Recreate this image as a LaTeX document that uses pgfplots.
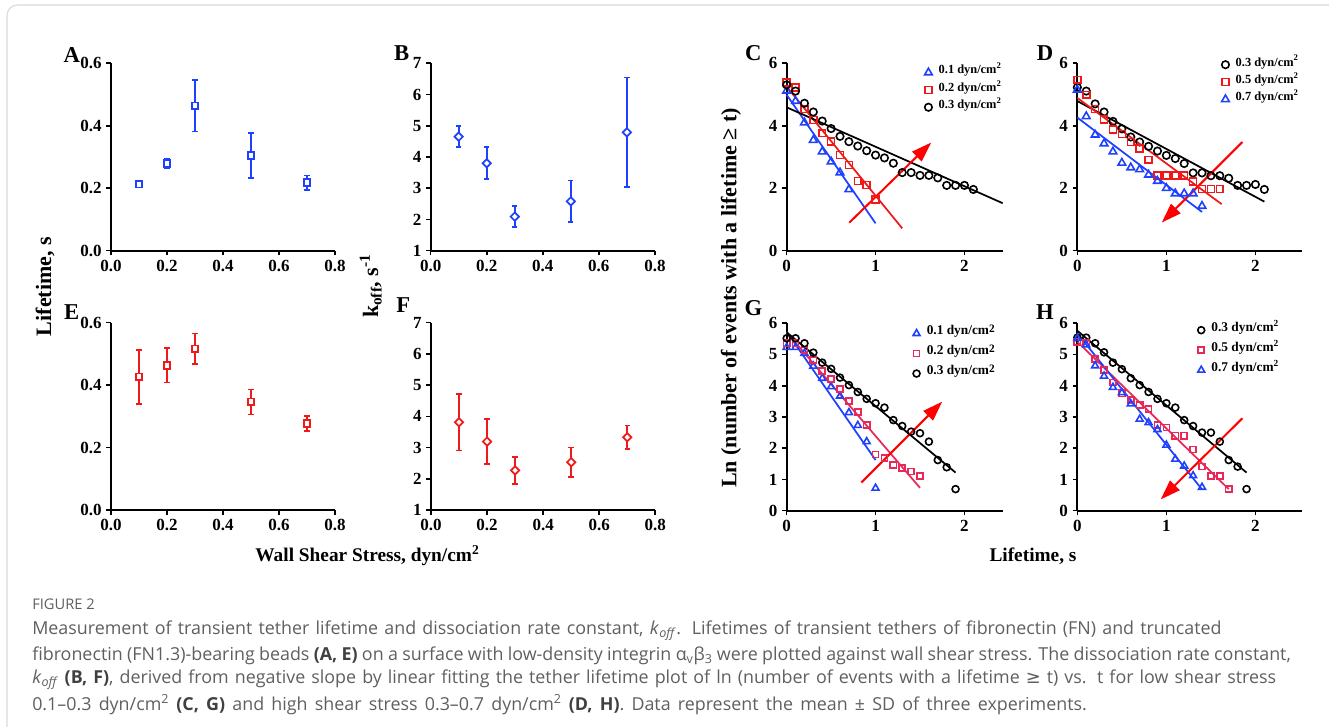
\documentclass[border=0pt]{standalone}
\usepackage{fontspec}
\setmainfont{Liberation Serif}
\newfontfamily\capfont{Open Sans}
\newfontfamily\symfont{DejaVu Sans}
\usepackage{pgfplots}
\pgfplotsset{compat=1.18}
\usepackage{pgfplotstable}
\usetikzlibrary{arrows.meta}

\definecolor{blueM}{RGB}{30,64,255}
\definecolor{redM}{RGB}{240,25,25}
\definecolor{pinkM}{RGB}{232,40,88}
\definecolor{capgray}{RGB}{95,95,95}

\newcommand\tickfont{\bfseries\fontsize{12.75}{13}\selectfont}
\newcommand\legfont{\bfseries\fontsize{9.3}{10}\selectfont}
\newcommand\legfontb{\bfseries\fontsize{10}{11}\selectfont}
\newcommand\sq{\textsuperscript{2}}
\newcommand\sqb{\raisebox{0.45ex}{\fontsize{8.5}{9}\selectfont 2}}
\newcommand\capline[2]{\makebox[#1][s]{#2}}

\tikzset{arr/.style={red, line width=1.5pt, -{Triangle[length=15pt,width=10pt]}}}

\pgfplotsset{
  panel/.style={
    scale only axis, anchor=south west,
    axis x line*=bottom, axis y line*=left,
    axis line style={-, line width=1.5pt},
    tick align=outside, major tick length=3.5pt,
    major tick style={line width=1.2pt, black},
    ticklabel style={font=\tickfont},
    /pgf/number format/assume math mode=true,
    clip=false,
  },
  errpanel/.style={panel, width=168pt, height=140.55pt, xmin=0, xmax=0.8,
    xtick={0,0.2,0.4,0.6,0.8}, xticklabels={0.0,0.2,0.4,0.6,0.8}},
  lifeaxis/.style={ymin=0, ymax=0.6, ytick={0,0.2,0.4,0.6}, yticklabels={0.0,0.2,0.4,0.6}},
  koffaxis/.style={ymin=1, ymax=7, ytick={1,2,...,7}, yticklabels={1,2,3,4,5,6,7}},
  decay/.style={panel, height=140.55pt, ymin=0, ymax=6, xmin=0,
    xtick={0,1,2}, xticklabels={0,1,2}},
  ebar/.style={only marks,
    error bars/y dir=both, error bars/y explicit,
    error bars/error bar style={line width=1.2pt, #1},
    error bars/error mark options={rotate=90, mark size=2pt, line width=1.2pt, #1}},
  fit/.style={#1, line width=1.3pt, forget plot},
  pts/.style={#1, only marks, mark options={line width=1.2pt}},
  leg/.style={legend style={draw=none, fill=none, font=\legfont, anchor=north west,
      at={#1}, row sep=0pt, inner sep=0pt,
      nodes={inner xsep=1.5pt, inner ysep=0pt, text height=7.5pt, text depth=5.5pt}},
    legend cell align=left,
    legend image code/.code={\path (0pt,0pt) (11pt,0pt);
      \draw[mark repeat=2,mark phase=2,##1]
      plot coordinates {(0pt,0pt)(5pt,0pt)(10pt,0pt)};}},
  legb/.style={leg={#1}, legend style={font=\legfontb,
      nodes={inner xsep=1.5pt, inner ysep=0pt, text height=8.5pt, text depth=6.5pt}}},
}

\pgfplotstableread{
x y e
0.1 0.213 0.010
0.2 0.279 0.014
0.3 0.464 0.082
0.5 0.305 0.072
0.7 0.218 0.023
}\dataA
\pgfplotstableread{
x y e
0.1 4.65 0.34
0.2 3.80 0.51
0.3 2.09 0.34
0.5 2.58 0.67
0.7 4.79 1.76
}\dataB
\pgfplotstableread{
x y e
0.1 0.426 0.087
0.2 0.463 0.055
0.3 0.516 0.049
0.5 0.346 0.040
0.7 0.277 0.024
}\dataE
\pgfplotstableread{
x y e
0.1 3.81 0.91
0.2 3.19 0.72
0.3 2.27 0.43
0.5 2.53 0.47
0.7 3.33 0.37
}\dataF

\begin{document}
\begin{tikzpicture}
\useasboundingbox (0pt,0pt) rectangle (996.75pt,-545.25pt);
\draw[black!15, line width=0.8pt, rounded corners=8pt] (5.25pt,-3.75pt) rectangle (1010pt,-560pt);

% A
\begin{axis}[errpanel, lifeaxis, at={(83.25pt,-188pt)}]
\addplot[blueM, mark=square*, mark size=2.5pt, ebar=blueM, mark options={fill=white, line width=1.3pt}] table[x=x,y=y,y error=e]{\dataA};
\end{axis}
% B
\begin{axis}[errpanel, koffaxis, at={(323pt,-188pt)}, width=168.2pt]
\addplot[blueM, mark=square*, mark size=2.2pt, ebar=blueM, mark options={rotate=45, fill=white, line width=1.3pt}] table[x=x,y=y,y error=e]{\dataB};
\end{axis}
% E
\begin{axis}[errpanel, lifeaxis, at={(83.25pt,-382.5pt)}]
\addplot[redM, mark=square*, mark size=2.5pt, ebar=redM, mark options={fill=white, line width=1.3pt}] table[x=x,y=y,y error=e]{\dataE};
\end{axis}
% F
\begin{axis}[errpanel, koffaxis, at={(323.25pt,-382.5pt)}, width=168.2pt]
\addplot[redM, mark=square*, mark size=2.2pt, ebar=redM, mark options={rotate=45, fill=white, line width=1.3pt}] table[x=x,y=y,y error=e]{\dataF};
\end{axis}

% C
\begin{axis}[decay, at={(590pt,-188pt)}, width=162pt, xmax=2.43,
  ytick={0,2,4,6}, yticklabels={0,2,4,6}, leg={(0.623,0.998)}]
\addplot[pts=blueM, mark=triangle, mark size=3.3pt] coordinates {
(0,5.12)(0.1,4.79)(0.2,4.10)(0.3,3.54)(0.4,3.17)(0.5,2.85)(0.6,2.50)(0.7,1.96)};
\addlegendentry{0.1 dyn/cm\sq}
\addplot[pts=redM, mark=square, mark size=2.6pt] coordinates {
(0,5.39)(0.1,5.22)(0.2,4.54)(0.3,4.18)(0.4,3.76)(0.5,3.49)(0.6,3.06)(0.7,2.74)(0.8,2.23)(0.9,2.10)(1.0,1.64)};
\addlegendentry{0.2 dyn/cm\sq}
\addplot[pts=black, mark=o, mark size=2.8pt] coordinates {
(0,5.31)(0.1,5.11)(0.2,4.72)(0.3,4.44)(0.4,4.15)(0.5,3.91)(0.6,3.66)(0.7,3.49)(0.8,3.35)(0.9,3.20)(1.0,3.06)
(1.1,2.97)(1.2,2.80)(1.3,2.50)(1.4,2.50)(1.5,2.41)(1.6,2.41)(1.7,2.33)(1.8,2.09)(1.9,2.09)(2.0,2.09)(2.1,1.96)};
\addlegendentry{0.3 dyn/cm\sq}
\addplot[fit=blueM] coordinates {(0,4.99)(1,0.875)};
\addplot[fit=redM] coordinates {(0,5.25)(1.3,0.715)};
\addplot[fit=black] coordinates {(0,4.59)(2.43,1.52)};
\draw[arr] (axis cs:0.705,0.897) -- (axis cs:1.625,3.46);
\end{axis}

% D
\begin{axis}[decay, at={(808pt,-188pt)}, width=168.3pt, xmax=2.52,
  ytick={0,2,4,6}, yticklabels={0,2,4,6}, leg={(0.628,1.04)}]
\addplot[pts=black, mark=o, mark size=2.8pt] coordinates {
(0,5.23)(0.1,5.11)(0.2,4.70)(0.3,4.44)(0.4,4.14)(0.5,3.90)(0.6,3.64)(0.7,3.48)(0.8,3.34)(0.9,3.19)(1.0,3.05)
(1.1,2.95)(1.2,2.79)(1.3,2.49)(1.4,2.49)(1.5,2.40)(1.6,2.40)(1.7,2.32)(1.8,2.09)(1.9,2.09)(2.0,2.12)(2.1,1.96)};
\addlegendentry{0.3 dyn/cm\sq}
\addplot[pts=redM, mark=square, mark size=2.6pt] coordinates {
(0,5.47)(0.1,4.99)(0.2,4.54)(0.3,4.20)(0.4,3.88)(0.5,3.74)(0.6,3.48)(0.7,3.27)(0.8,2.91)(0.9,2.40)(1.0,2.40)
(1.1,2.40)(1.2,2.40)(1.3,2.21)(1.4,1.97)(1.5,1.97)(1.6,1.97)};
\addlegendentry{0.5 dyn/cm\sq}
\addplot[pts=blueM, mark=triangle, mark size=3.3pt] coordinates {
(0,5.15)(0.1,4.30)(0.2,3.71)(0.3,3.43)(0.4,3.17)(0.5,2.81)(0.6,2.66)(0.7,2.60)(0.8,2.43)(0.9,2.23)(1.0,2.00)
(1.1,1.83)(1.2,1.83)(1.3,1.83)(1.4,1.43)};
\addlegendentry{0.7 dyn/cm\sq}
\addplot[fit=black] coordinates {(0,4.79)(2.1,1.57)};
\addplot[fit=redM] coordinates {(0,4.89)(1.62,1.49)};
\addplot[fit=blueM] coordinates {(0,4.26)(1.4,1.24)};
\draw[arr] (axis cs:1.854,3.48) -- (axis cs:0.948,0.90);
\end{axis}

% G
\begin{axis}[decay, at={(590pt,-383pt)}, width=162pt, xmax=2.43,
  ytick={0,1,...,6}, yticklabels={0,1,2,3,4,5,6}, legb={(0.568,1.0)}]
\addplot[pts=blueM, mark=triangle, mark size=3pt] coordinates {
(0,5.23)(0.1,5.23)(0.2,5.04)(0.3,4.63)(0.4,4.24)(0.5,3.97)(0.6,3.67)(0.7,3.14)(0.8,2.73)(0.9,2.21)(1.0,0.72)};
\addlegendentry{0.1 dyn/cm\sqb}
\addplot[pts=pinkM, mark=square, mark size=2.3pt] coordinates {
(0,5.36)(0.1,5.36)(0.2,5.15)(0.3,4.83)(0.4,4.47)(0.5,4.21)(0.6,3.90)(0.7,3.51)(0.8,3.16)(0.9,2.75)(1.0,1.80)
(1.1,1.68)(1.2,1.46)(1.3,1.36)(1.4,1.25)(1.5,1.11)};
\addlegendentry{0.2 dyn/cm\sqb}
\addplot[pts=black, mark=o, mark size=2.6pt] coordinates {
(0,5.52)(0.1,5.52)(0.2,5.36)(0.3,5.06)(0.4,4.74)(0.5,4.54)(0.6,4.26)(0.7,4.02)(0.8,3.80)(0.9,3.58)(1.0,3.44)
(1.1,3.30)(1.2,2.90)(1.3,2.71)(1.4,2.53)(1.5,2.48)(1.6,2.21)(1.7,1.62)(1.8,1.39)(1.9,0.69)};
\addlegendentry{0.3 dyn/cm\sqb}
\addplot[fit=blueM] coordinates {(0,5.73)(1.0,1.62)};
\addplot[fit=pinkM] coordinates {(0,5.71)(1.5,0.73)};
\addplot[fit=black] coordinates {(0,5.71)(1.9,1.22)};
\draw[arr] (axis cs:0.84,0.90) -- (axis cs:1.75,3.49);
\end{axis}

% H
\begin{axis}[decay, at={(808pt,-383pt)}, width=168.3pt, xmax=2.52,
  ytick={0,1,...,6}, yticklabels={0,1,2,3,4,5,6}, legb={(0.52,1.018)}]
\addplot[pts=black, mark=o, mark size=2.6pt] coordinates {
(0,5.54)(0.1,5.54)(0.2,5.36)(0.3,5.07)(0.4,4.74)(0.5,4.53)(0.6,4.24)(0.7,4.02)(0.8,3.80)(0.9,3.58)(1.0,3.44)
(1.1,3.30)(1.2,2.90)(1.3,2.71)(1.4,2.50)(1.5,2.50)(1.6,2.21)(1.7,1.62)(1.8,1.41)(1.9,0.69)};
\addlegendentry{0.3 dyn/cm\sq}
\addplot[pts=pinkM, mark=square, mark size=2.3pt] coordinates {
(0,5.41)(0.1,5.36)(0.2,4.86)(0.3,4.51)(0.4,4.10)(0.5,3.76)(0.6,3.54)(0.7,3.38)(0.8,3.25)(0.9,2.74)(1.0,2.66)
(1.1,2.40)(1.2,2.40)(1.3,1.96)(1.4,1.41)(1.5,1.11)(1.6,1.11)(1.7,0.69)};
\addlegendentry{0.5 dyn/cm\sq}
\addplot[pts=blueM, mark=triangle, mark size=3pt] coordinates {
(0,5.52)(0.1,5.31)(0.2,4.64)(0.3,4.31)(0.4,3.95)(0.5,3.78)(0.6,3.42)(0.7,2.93)(0.8,2.82)(0.9,2.60)(1.0,2.10)
(1.1,1.65)(1.2,1.43)(1.3,1.12)(1.4,0.75)};
\addlegendentry{0.7 dyn/cm\sq}
\addplot[fit=black] coordinates {(0,5.76)(1.9,1.22)};
\addplot[fit=pinkM] coordinates {(0,5.41)(1.7,0.69)};
\addplot[fit=blueM] coordinates {(0,5.68)(1.4,0.68)};
\draw[arr] (axis cs:1.854,2.96) -- (axis cs:0.936,0.36);
\end{axis}

% panel letters and shared labels
\begin{scope}[every node/.style={font=\bfseries\fontsize{17}{18}\selectfont}]
\node at (53.8pt,-41.25pt) {A};
\node at (301.3pt,-40pt) {B};
\node at (565pt,-40pt) {C};
\node at (783.75pt,-40pt) {D};
\node at (53.8pt,-233.8pt) {E};
\node at (302.5pt,-228.75pt) {F};
\node at (565pt,-231.2pt) {G};
\node at (783.75pt,-233.8pt) {H};
\end{scope}
\begin{scope}[every node/.style={font=\bfseries\fontsize{16.5}{18}\selectfont, rotate=90}]
\node at (33.75pt,-214.9pt) {Lifetime, s};
\node at (278pt,-214.5pt) {k\textsubscript{off}, s\textsuperscript{-1}};
\node at (548.25pt,-223.5pt) {Ln (number of events with a lifetime ≥ t)};
\end{scope}
\begin{scope}[every node/.style={font=\bfseries\fontsize{14.5}{16}\selectfont}]
\node at (275.6pt,-417pt) {Wall Shear Stress, dyn/cm\textsuperscript{2}};
\node at (774.75pt,-417pt) {Lifetime, s};
\end{scope}

% caption
\begin{scope}[every node/.style={anchor=west, inner sep=0pt, text=capgray, font=\capfont\fontsize{13.4}{15}\selectfont}]
\node[font=\capfont\fontsize{11}{12}\selectfont] at (24pt,-453pt) {FIGURE 2};
\node at (24pt,-473.25pt) {\capline{892pt}{Measurement of transient tether lifetime and dissociation rate constant, \textit{k}\textsubscript{\textit{off}}. Lifetimes of transient tethers of fibronectin (FN) and truncated}};
\node at (24pt,-492pt) {\capline{944pt}{fibronectin (FN1.3)-bearing beads \textbf{\color{black!75}(A, E)} on a surface with low-density integrin α\textsubscript{v}β\textsubscript{3} were plotted against wall shear stress. The dissociation rate constant,}};
\node at (24pt,-510pt) {\capline{933pt}{\textit{k}\textsubscript{\textit{off}} \textbf{\color{black!75}(B, F)}, derived from negative slope by linear fitting the tether lifetime plot of ln (number of events with a lifetime {\symfont ≥} t) vs. t for low shear stress}};
\node at (24pt,-528.75pt) {\capline{791pt}{0.1–0.3 dyn/cm\textsuperscript{2} \textbf{\color{black!75}(C, G)} and high shear stress 0.3–0.7 dyn/cm\textsuperscript{2} \textbf{\color{black!75}(D, H)}. Data represent the mean ± SD of three experiments.}};
\end{scope}
\end{tikzpicture}
\end{document}
